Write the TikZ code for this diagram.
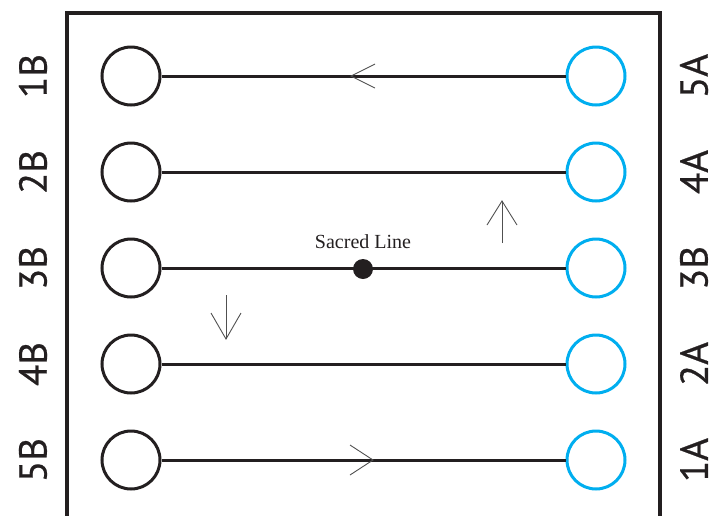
\documentclass[tikz,border=0pt]{standalone}
\usepackage{fontspec}
\setmainfont{Liberation Serif}
\newfontfamily\labelfont[FakeBold=0.6]{PT Sans}
\definecolor{ringblue}{RGB}{0,174,239}
\definecolor{inkdark}{RGB}{35,31,32}
\definecolor{flowgray}{RGB}{80,80,80}
\begin{document}
\begin{tikzpicture}[x=1pt,y=-1pt,
  frameline/.style={draw=inkdark,line width=4pt},
  ringB/.style={circle,draw=inkdark,line width=3pt,minimum size=58pt,inner sep=0pt},
  ringA/.style={circle,draw=ringblue,line width=3pt,minimum size=58pt,inner sep=0pt},
  wire/.style={draw=inkdark,line width=3pt},
  sidelabel/.style={font=\labelfont\fontsize{39}{39}\selectfont,text=inkdark,rotate=90,inner sep=0pt},
  flow/.style={draw=flowgray,line width=0.9pt}]
\useasboundingbox (0,0) rectangle (713,515);
% open frame
\draw[frameline] (67,520) -- (67,13) -- (660,13) -- (660,520);
% rows of paired rings
\foreach \i/\yy/\lb/\la in {1/76/1B/5A,2/172/2B/4A,3/268/3B/3B,4/364/4B/2A,5/460/5B/1A}{
  \node[ringB] (b\i) at (131,\yy) {};
  \node[ringA] (a\i) at (596,\yy) {};
  \draw[wire] (b\i) -- (a\i);
  \node[sidelabel] (lb\i) at (33,\yy) {\lb};
  \node[sidelabel] (la\i) at (694,\yy) {\la};
}
% centre point of the middle row
\node[circle,fill=inkdark,minimum size=20pt,inner sep=0pt] (dot) at (363,269) {};
\node[font=\fontsize{20}{20}\selectfont,text=inkdark,anchor=base] (sacred) at (363,248) {Sacred Line};
% direction marks
\draw[flow] (375,64) -- (351,76) -- (375,88);
\draw[flow] (350,445) -- (373,460) -- (350,475);
\draw[flow] (502,243) -- (502,201);
\draw[flow] (487,225) -- (502,201) -- (517,225);
\draw[flow] (226,295) -- (226,339);
\draw[flow] (211,313) -- (226,339) -- (241,313);
\end{tikzpicture}
\end{document}
